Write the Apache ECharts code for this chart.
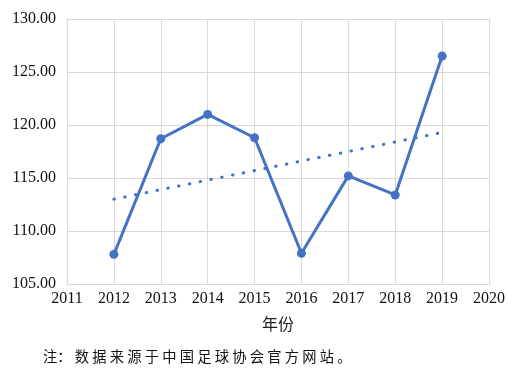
<!DOCTYPE html>
<html>
<head>
<meta charset="utf-8">
<script src="https://cdn.jsdelivr.net/npm/echarts@6/dist/echarts.min.js"></script>
<style>html,body{margin:0;padding:0;background:#fff}#c{width:512px;height:371px}</style>
</head>
<body>
<div id="c"></div>
<script>
var years = [2012, 2013, 2014, 2015, 2016, 2017, 2018, 2019];
var values = [107.8, 118.7, 121.0, 118.8, 107.9, 115.2, 113.4, 126.5];
var trendYears = [2012, 2019];
var trendValues = [113.0, 119.3];
var xAxisName = '年份';
var note = '注： 数 据 来 源 于 中 国 足 球 协 会 官 方 网 站 。';

var chart = echarts.init(document.getElementById('c'), null, {renderer: 'canvas'});
var serif = '"Liberation Serif", "Times New Roman", serif';
var blue = '#4472C4';
chart.setOption({
  animation: false,
  backgroundColor: '#fff',
  grid: {left: 67, right: 23, top: 19, bottom: 87, containLabel: false},
  xAxis: {
    type: 'value', min: 2011, max: 2020, interval: 1,
    name: xAxisName, nameLocation: 'middle', nameGap: 32,
    nameTextStyle: {fontFamily: '"Noto Sans CJK SC"', fontSize: 16, color: '#222'},
    axisLine: {show: true, lineStyle: {color: '#d9d9d9', width: 1}},
    axisTick: {show: false},
    axisLabel: {fontFamily: serif, fontSize: 16, color: '#111', margin: 7, formatter: function (v) { return String(v); }},
    splitLine: {show: true, lineStyle: {color: '#d9d9d9', width: 1}}
  },
  yAxis: {
    type: 'value', min: 105, max: 130, interval: 5,
    axisLine: {show: true, lineStyle: {color: '#d9d9d9', width: 1}},
    axisTick: {show: false},
    axisLabel: {fontFamily: serif, fontSize: 16, color: '#111', margin: 11, formatter: function (v) { return v.toFixed(2); }},
    splitLine: {show: true, lineStyle: {color: '#d9d9d9', width: 1}}
  },
  series: [
    {
      type: 'line',
      data: trendYears.map(function (y, i) { return [y, trendValues[i]]; }),
      symbol: 'none',
      lineStyle: {color: blue, width: 3, type: [0.5, 10.5], cap: 'round'},
      z: 2
    },
    {
      type: 'line',
      data: years.map(function (y, i) { return [y, values[i]]; }),
      symbol: 'circle', symbolSize: 9,
      itemStyle: {color: blue},
      lineStyle: {color: blue, width: 3},
      z: 3
    }
  ],
  graphic: [{
    type: 'text', left: 43, top: 349,
    style: {text: note, fontFamily: '"Noto Sans CJK SC"', fontSize: 14.3, fill: '#111'}
  }]
});
</script>
</body>
</html>
